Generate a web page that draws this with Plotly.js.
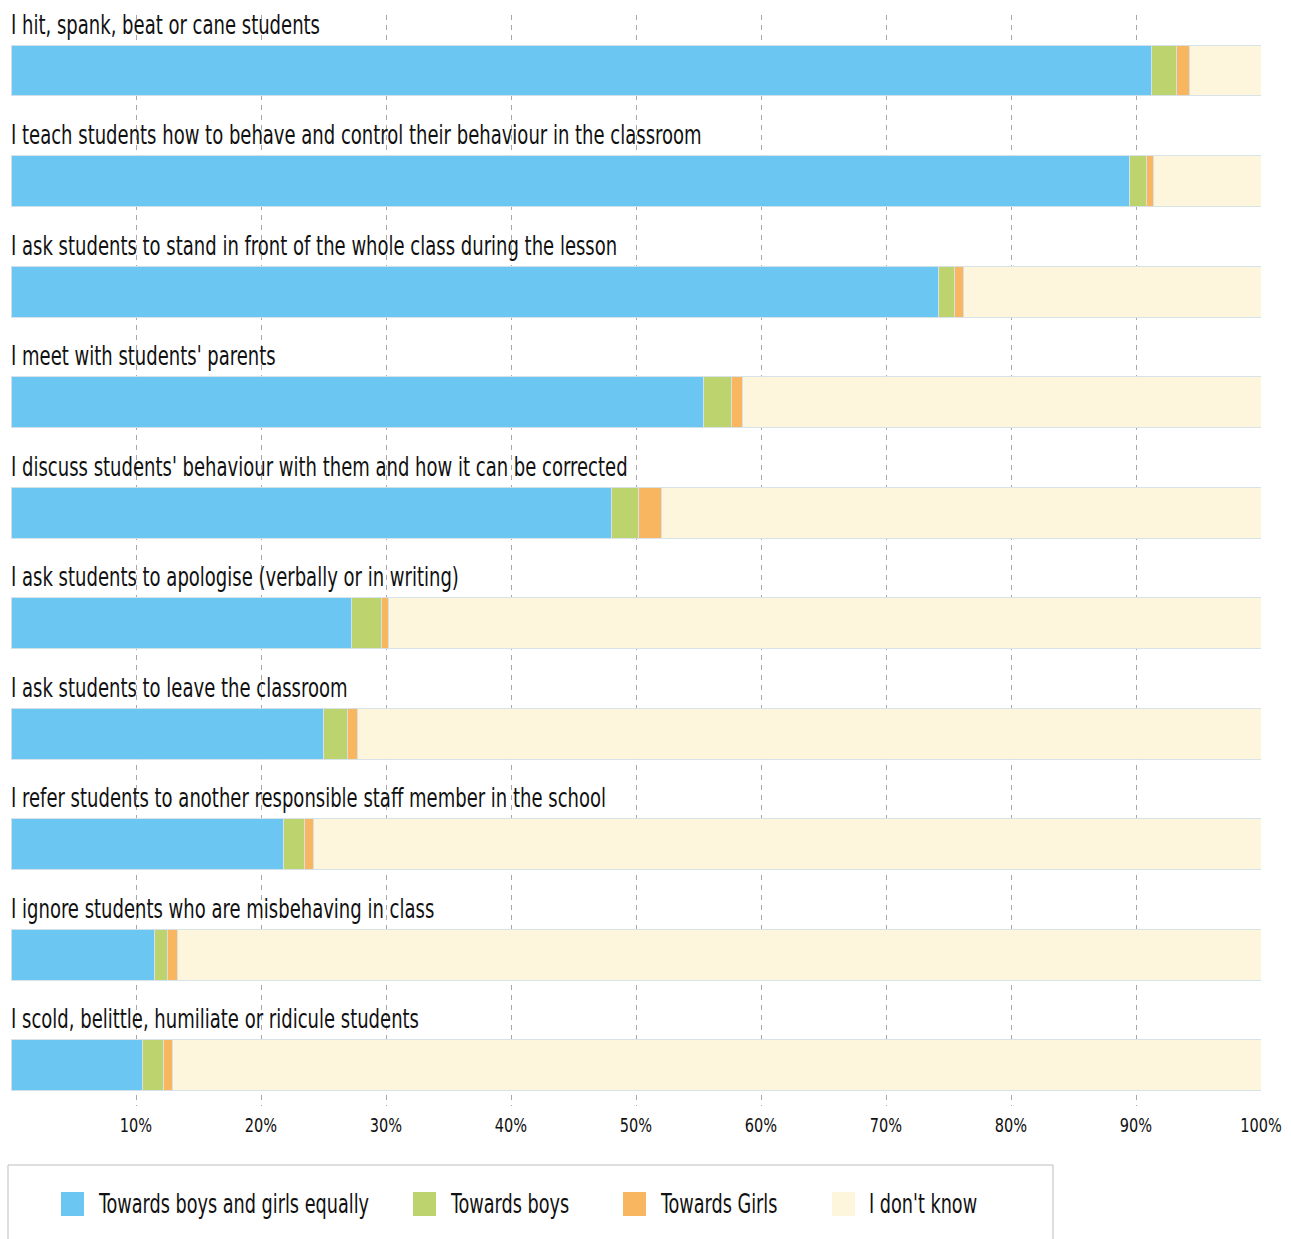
<!DOCTYPE html>
<html>
<head>
<meta charset="utf-8">
<script src="https://cdn.plot.ly/plotly-3.0.1.min.js"></script>
<style>
html,body{margin:0;padding:0;background:#fff;}
#chart{width:1291px;height:1239px;}
</style>
</head>
<body>
<div id="chart"></div>
<script>
// ---- Data ----
const categories = [
  "I hit, spank, beat or cane students",
  "I teach students how to behave and control their behaviour in the classroom",
  "I ask students to stand in front of the whole class during the lesson",
  "I meet with students' parents",
  "I discuss students' behaviour with them and how it can be corrected",
  "I ask students to apologise (verbally or in writing)",
  "I ask students to leave the classroom",
  "I refer students to another responsible staff member in the school",
  "I ignore students who are misbehaving in class",
  "I scold, belittle, humiliate or ridicule students"
];
const equally   = [91.2, 89.5, 74.2, 55.4, 48.0, 27.2, 25.0, 21.8, 11.5, 10.5];
const boys      = [2.0, 1.3, 1.3, 2.2, 2.2, 2.4, 1.9, 1.7, 1.0, 1.7];
const girls     = [1.1, 0.6, 0.7, 0.9, 1.8, 0.6, 0.8, 0.7, 0.8, 0.7];
const dontKnow  = [5.7, 8.6, 23.8, 41.5, 48.0, 69.8, 72.3, 75.8, 86.7, 87.1];
const seriesNames = ["Towards boys and girls equally", "Towards boys", "Towards Girls", "I don't know"];
const tickVals = [10, 20, 30, 40, 50, 60, 70, 80, 90, 100];
const tickText = ["10%", "20%", "30%", "40%", "50%", "60%", "70%", "80%", "90%", "100%"];

// ---- Style ----
const colors = ["#6cc6f2", "#bcd36e", "#f8b660", "#fef6dc"];
const FONT = "'Liberation Sans Narrow', 'DejaVu Sans Condensed', 'Arial Narrow', sans-serif";
const W = 1291, H = 1239;
const L = 11, R = 30, T = 15, B = 133;
const plotW = W - L - R, plotH = H - T - B;
const xp = px => (px - L) / plotW;
const yp = py => (H - B - py) / plotH;

const seriesValues = [equally, boys, girls, dontKnow];
const traces = seriesValues.map((vals, i) => ({
  type: "bar",
  orientation: "h",
  name: seriesNames[i],
  y: categories,
  x: vals,
  width: 0.461,
  marker: {color: colors[i], line: {color: "rgba(214,226,232,0.95)", width: 1}},
  showlegend: false,
  hovertemplate: "%{y}<br>" + seriesNames[i] + ": %{x}%<extra></extra>"
}));

const annotations = categories.map(c => ({
  xref: "x", yref: "y", x: 0, y: c,
  text: c, showarrow: false,
  xanchor: "left", yanchor: "middle", align: "left",
  yshift: 46, xshift: -2,
  font: {family: FONT, size: 26, color: "#111"}
}));

// custom legend (box, swatches, labels)
const legendSwatchX = [61, 413, 623, 832];
const shapes = [{
  type: "rect", xref: "paper", yref: "paper",
  x0: xp(8), x1: xp(1053), y0: yp(1165), y1: yp(1250),
  line: {color: "#bdbdbd", width: 1}, fillcolor: "rgba(0,0,0,0)"
}];
seriesNames.forEach((n, i) => {
  shapes.push({
    type: "rect", xref: "paper", yref: "paper",
    x0: xp(legendSwatchX[i]), x1: xp(legendSwatchX[i] + 23),
    y0: yp(1192), y1: yp(1216),
    line: {width: 0}, fillcolor: colors[i]
  });
  annotations.push({
    xref: "paper", yref: "paper",
    x: xp(legendSwatchX[i] + 35), y: yp(1204),
    text: n, showarrow: false, xanchor: "left", yanchor: "middle", align: "left",
    font: {family: FONT, size: 26, color: "#111"},
    name: "legendtext"
  });
});

const layout = {
  width: W, height: H,
  margin: {l: L, r: R, t: T, b: B, pad: 0},
  paper_bgcolor: "#fff", plot_bgcolor: "#fff",
  barmode: "stack",
  showlegend: false,
  xaxis: {
    range: [0, 100], tickvals: tickVals, ticktext: tickText,
    showgrid: true, gridcolor: "#a8a8a8", griddash: "5px,5px", gridwidth: 1,
    zeroline: false, showline: false, ticks: "",
    ticklabelstandoff: 6,
    tickfont: {family: FONT, size: 19, color: "#111"},
    fixedrange: true
  },
  yaxis: {
    type: "category",
    range: [9.367, -0.502],
    showticklabels: false, showgrid: false, zeroline: false, showline: false, ticks: "",
    fixedrange: true
  },
  shapes: shapes,
  annotations: annotations
};

// condense glyphs horizontally to mimic the narrow typeface of the original
function condenseEl(t, factor) {
  const len = t.getComputedTextLength();
  if (len > 0) {
    t.setAttribute("textLength", (len * factor).toFixed(1));
    t.setAttribute("lengthAdjust", "spacingAndGlyphs");
  }
}

Plotly.newPlot("chart", traces, layout, {displayModeBar: false, responsive: false}).then(() => {
  document.querySelectorAll("#chart .annotation-text").forEach(t => {
    const isLegend = seriesNames.indexOf(t.textContent) >= 0;
    condenseEl(t, isLegend ? 0.755 : 0.77);
  });
  document.querySelectorAll("#chart .xtick text").forEach(t => condenseEl(t, 0.85));
});
</script>
</body>
</html>
